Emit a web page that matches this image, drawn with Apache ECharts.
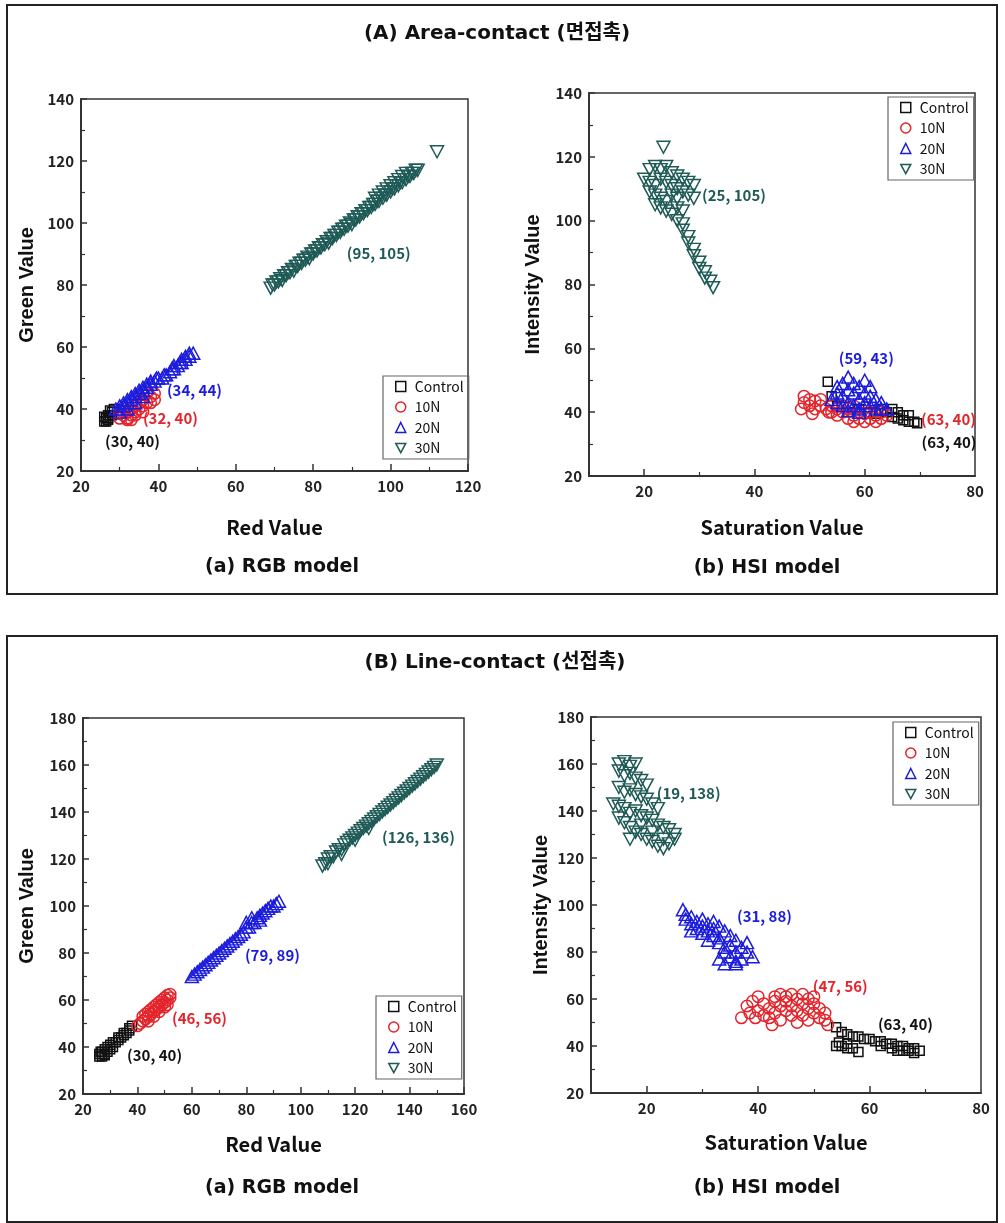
<!DOCTYPE html>
<html><head><meta charset="utf-8">
<script src="https://cdn.jsdelivr.net/npm/echarts@6/dist/echarts.min.js"></script>
<style>html,body{margin:0;padding:0;background:#fff}#c{width:1005px;height:1223px}</style>
</head><body><div id="c"></div>
<script>
// ---------- DATA ----------
const groups = ['Control', '10N', '20N', '30N'];
const panelTitles = ['(A) Area-contact (면접촉)', '(B) Line-contact (선접촉)'];
const subTitles = ['(a) RGB model', '(b) HSI model'];
const xNames = ['Red Value', 'Saturation Value'];
const yNames = ['Green Value', 'Intensity Value'];

const aRgbXTicks = [20, 40, 60, 80, 100, 120];
const aRgbYTicks = [20, 40, 60, 80, 100, 120, 140];
const aHsiXTicks = [20, 40, 60, 80];
const aHsiYTicks = [20, 40, 60, 80, 100, 120, 140];
const bRgbXTicks = [20, 40, 60, 80, 100, 120, 140, 160];
const bRgbYTicks = [20, 40, 60, 80, 100, 120, 140, 160, 180];
const bHsiXTicks = [20, 40, 60, 80];
const bHsiYTicks = [20, 40, 60, 80, 100, 120, 140, 160, 180];
const hsiXMin = 10;

// (A) RGB
const aRgbControl = [[26,36],[26.5,37],[27,37],[27,38],[27.5,38],[28,39],[26,37.5],[27,36.5],[28,38],[27.5,39.5],[26.5,36],[28.5,40]];
const aRgb10N = [[30,37],[31,38],[32,37],[33,38],[32,39],[34,39],[33,40],[35,40],[34,41],[36,41],[35,42],[37,42],[36,43],[38,44],[37,45],[39,45],[31,39],[30,38.5],[34,38],[36,39],[38,42],[39,43],[32,36.5],[33,36.5]];
const aRgb20N = [[29,40],[30,41],[31,41],[31,42],[32,42],[32,43],[33,43],[33,44],[34,44],[34,45],[35,45],[35,46],[36,46],[36,47],[37,47],[37,48],[38,48],[38,49],[39,49],[40,50],[41,50],[42,51],[43,52],[44,53],[44,54],[45,54],[46,55],[46,56],[47,56],[47,57],[48,57],[48,58],[49,58],[30,39],[32,40],[34,42],[36,44],[39.5,50],[41.5,51],[43.5,53],[45.5,55]];
const aRgb30N = [[69,79],[69.5,80],[70,80],[70.5,81],[71,81],[71.5,82],[72,81.5],[72.5,83],[73,83],[73.5,84],[74,84],[74.5,85],[75,84.5],[75.5,86],[76,86],[76.5,87],[77,87],[77.5,88],[78,88],[78.5,89],[79,88.5],[79.5,90],[80,90],[80.5,91],[81,91],[81.5,92],[82,92],[82.5,93],[83,93],[83.5,94],[84,93.5],[84.5,95],[85,95],[85.5,96],[86,96],[86.5,97],[87,97],[87.5,98],[88,98],[88.5,99],[89,99],[89.5,100],[90,99.5],[90.5,101],[91,101],[91.5,102],[92,102],[92.5,103],[93,103],[93.5,104],[94,104],[94.5,105],[95,105],[95.5,106],[96,106],[96,108],[96.5,107],[97,107],[97,109],[98,108],[98,110],[98.5,109],[99,109],[99,111],[100,110],[100,112],[100.5,111],[101,111],[101,113],[102,112],[102,114],[102.5,113],[103,113],[103,115],[104,114],[104,116],[104.5,115],[105,115],[105.5,116],[106,116],[106.5,117],[107,117],[112,123]];
const aRgbNotes = [['(95, 105)',88.7,90.3,3],['(34, 44)',42.2,46.1,2],['(32, 40)',36.0,37.1,1],['(30, 40)',26.2,29.7,0]];

// (A) HSI
const aHsiControl = [[53.3,49.5],[54,45],[55,42],[57,40],[59,41],[61,40],[62,39.5],[63,41],[64,40],[65,41],[66,40],[66,38],[67,39],[67,37.5],[68,39],[68,37],[69,37],[69.5,36.5],[65,38.5]];
const aHsi10N = [[48.5,41],[49,43],[49,45],[50,42],[50,44],[50.5,39.5],[51,41],[51,43.5],[52,42],[52,44],[53,41],[53.5,40],[54,42],[55,41],[55,39],[56,40],[57,38],[57,41],[58,39],[58,37],[59,40],[59,38],[60,37],[60,39.5],[61,38],[61,40],[62,37],[62,39],[63,38],[63,40],[64,39],[56,42],[58,42],[60,41.5],[54,40]];
const aHsi20N = [[54,44],[55,46],[55,48],[56,45],[56,49],[57,47],[57,51],[57,43],[58,46],[58,49],[58,42],[59,44],[59,48],[59,41],[60,46],[60,43],[60,50],[61,45],[61,48],[61,42],[62,44],[62,41],[63,43],[63,41],[64,41],[55,43],[56,42],[57,40.5],[59,40]];
const aHsi30N = [[23.5,123],[21,116],[22,117],[23,116],[24,117],[25,115],[26,114],[27,113],[28,112],[29,111],[20,113],[21,112],[22,111],[23,113],[24,112],[25,111],[26,110],[27,109],[28,108],[29,107],[21,109],[22,108],[23,107],[24,106],[25,108],[26,107],[22,105],[23,104],[24,103],[25,102],[26,104],[27,103],[26,100],[27,99],[27,97],[28,95],[28,93],[29,91],[29,89],[30,87],[30,85],[31,84],[31,82],[32,81],[32.5,79]];
const aHsiNotes = [['(25, 105)',30.5,107.8,3],['(59, 43)',55.3,57,2],['(63, 40)',70.2,37.9,1],['(63, 40)',70.3,30.7,0]];

// (B) RGB
const bRgbControl = [[26,36],[26,37],[27,36],[27,38],[28,37],[28,39],[29,38],[29,40],[30,39],[30,41],[31,40],[31,42],[32,42],[33,43],[33,44],[34,44],[35,45],[35,46],[36,46],[37,47],[37,48],[38,49],[27,37],[26.5,38],[28,36.5]];
const bRgb10N = [[41,50],[42,51],[42,53],[43,52],[43,54],[44,53],[44,55],[45,54],[45,56],[46,55],[46,57],[47,56],[47,58],[48,57],[48,59],[49,58],[49,60],[50,59],[50,61],[51,60],[51,62],[52,61],[52,62.5],[40,49],[44,51],[46,53],[48,55],[50,57],[51,58]];
const bRgb20N = [[60,70],[61,71],[62,72],[63,73],[64,74],[65,75],[66,76],[67,77],[68,78],[69,79],[70,80],[71,81],[72,82],[73,83],[74,84],[75,85],[76,86],[77,87],[78,88],[79,89],[80,91],[81,91],[82,93],[83,93],[84,95],[85,96],[86,97],[87,98],[88,99],[89,100],[90,100],[91,101],[92,102],[80,93],[82,95],[85,94]];
const bRgb30N = [[108,117],[109,118],[110,120],[111,121],[112,121],[113,123],[114,124],[115,124],[116,126],[117,127],[118,128],[119,129],[120,130],[121,131],[122,132],[123,133],[124,134],[125,135],[126,136],[127,137],[128,138],[129,139],[130,140],[131,141],[132,142],[133,143],[134,144],[135,145],[136,146],[137,147],[138,148],[139,149],[140,150],[141,151],[142,152],[143,153],[144,154],[145,155],[146,156],[147,157],[148,158],[149,159],[150,160],[110,118],[115,122],[120,128],[125,133]];
const bRgbNotes = [['(126, 136)',129.9,129.4,3],['(79, 89)',79.5,79.1,2],['(46, 56)',52.7,52.3,1],['(30, 40)',36.2,36.6,0]];

// (B) HSI
const bHsiControl = [[54,48],[55,46],[56,45],[57,44],[58,44],[59,43],[60,43],[61,42],[62,42],[63,41],[64,41],[65,40],[66,40],[67,39],[68,39],[69,38],[68,37],[67,38],[66,38],[65,38],[64,39],[62,40],[54,40],[55,40],[56,39],[57,39],[58,37.5],[56,41],[54.5,41.5]];
const bHsi10N = [[37,52],[38,57],[38.5,54],[39,59],[40,61],[40,55],[41,53],[41,58],[42,56],[42,52],[43,59],[43,54],[43,61],[44,57],[44,62],[44,51],[45,55],[45,59],[45,61],[46,57],[46,53],[46,62],[47,60],[47,55],[47,50],[48,58],[48,62],[48,53],[49,56],[49,60],[49,51],[50,54],[50,58],[50,61],[51,52],[51,56],[52,54],[52,51],[52.5,49],[39.5,52],[42.5,49]];
const bHsi20N = [[26.5,98],[27,96],[27,94],[28,95],[28,92],[29,93],[29,90],[30,94],[30,91],[30,88],[31,92],[31,89],[32,93],[32,87],[32,90],[33,91],[33,86],[33,84],[34,89],[34,82],[34,80],[35,87],[35,83],[35,78],[36,85],[36,80],[36,76],[37,82],[37,77],[38,80],[38,84],[39,78],[33,77],[34,75],[36,75],[31,85],[28,89]];
const bHsi30N = [[15,160],[16,161],[17,159],[18,160],[15,157],[16,155],[17,156],[18,154],[19,153],[20,151],[15,150],[16,148],[17,149],[18,147],[19,146],[20,145],[21,143],[22,141],[14,143],[15,142],[16,141],[17,139],[18,140],[19,138],[20,137],[21,136],[22,134],[23,133],[24,132],[25,130],[15,137],[16,135],[17,133],[18,131],[19,130],[20,128],[21,127],[22,125],[23,124],[24,126],[25,128],[23,128],[21,131],[19,134],[17,128]];
const bHsiNotes = [['(19, 138)',21.8,147.7,3],['(31, 88)',36.2,95.3,2],['(47, 56)',49.8,65.5,1],['(63, 40)',61.5,49.4,0]];

// ---------- STYLE ----------
const COLORS = ['#111111', '#e3242b', '#1c1cdc', '#1e5a56'];
const INV_TRI = 'path://M0,0L12,0L6,11Z';
const SYMBOLS = ['rect', 'circle', 'triangle', INV_TRI];
const SYMSIZE = [9, 11.5, [13, 12], [13, 12]];
const NARROW = "'Noto Sans CJK KR','Liberation Sans Narrow',sans-serif";
const WIDE = "'Liberation Sans',Arial,sans-serif";
const AX = '#333';

const panels = [
  {grid:{left:81, top:99, width:387, height:372}, xt:aRgbXTicks, yt:aRgbYTicks, hsi:false, series:[aRgbControl,aRgb10N,aRgb20N,aRgb30N], notes:aRgbNotes, legend:{left:383, top:376}, xGap:46, yGap:44, xn:xNames[0], yn:yNames[0]},
  {grid:{left:589, top:93, width:386, height:383}, xt:aHsiXTicks, yt:aHsiYTicks, hsi:true, series:[aHsiControl,aHsi10N,aHsi20N,aHsi30N], notes:aHsiNotes, legend:{left:888, top:97}, xGap:41, yGap:46, xn:xNames[1], yn:yNames[1]},
  {grid:{left:83, top:718, width:381, height:376}, xt:bRgbXTicks, yt:bRgbYTicks, hsi:false, series:[bRgbControl,bRgb10N,bRgb20N,bRgb30N], notes:bRgbNotes, legend:{left:376, top:996}, xGap:40, yGap:46, xn:xNames[0], yn:yNames[0]},
  {grid:{left:591, top:717, width:390, height:376}, xt:bHsiXTicks, yt:bHsiYTicks, hsi:true, series:[bHsiControl,bHsi10N,bHsi20N,bHsi30N], notes:bHsiNotes, legend:{left:893, top:722}, xGap:39, yGap:40, xn:xNames[1], yn:yNames[1]}
];

const labelStyle = {fontFamily:NARROW, fontWeight:'bold', fontSize:15, color:'#222'};
const grids = [], xAxes = [], yAxes = [], series = [], legends = [];

panels.forEach((p, gi) => {
  grids.push(Object.assign({show:true, borderColor:AX, borderWidth:1.5, containLabel:false}, p.grid));
  const xMain = {
    type:'value', gridIndex:gi, position:'bottom',
    name:p.xn, nameLocation:'middle', nameGap:p.xGap,
    nameTextStyle:{fontFamily:NARROW, fontWeight:'bold', fontSize:20, color:'#111'},
    max:p.xt[p.xt.length-1],
    axisLine:{show:true, onZero:false, lineStyle:{color:AX, width:2}},
    axisLabel:Object.assign({margin:8, showMinLabel:true, showMaxLabel:true}, labelStyle),
    splitLine:{show:false}
  };
  if (p.hsi) {
    xMain.min = hsiXMin;
    xMain.axisTick = {show:true, inside:true, length:7, customValues:p.xt.slice(0, -1), lineStyle:{color:AX, width:1.5}};
    xMain.axisLabel.customValues = p.xt;
    xAxes.push(xMain);
    const minorVals = p.xt.slice(0, -1).map(v => v + 10);
    xAxes.push({type:'value', gridIndex:gi, position:'bottom', min:hsiXMin, max:p.xt[p.xt.length-1],
      axisLine:{show:false}, axisLabel:{show:false}, splitLine:{show:false},
      axisTick:{show:true, inside:true, length:4, customValues:minorVals, lineStyle:{color:AX, width:1.2}}});
  } else {
    xMain.min = p.xt[0];
    xMain.interval = 20;
    xMain.axisTick = {show:true, inside:true, length:7, lineStyle:{color:AX, width:1.5}};
    xMain.minorTick = {show:true, splitNumber:2, length:4, lineStyle:{color:AX, width:1.2}};
    xAxes.push(xMain);
  }
  const xIdx = xAxes.indexOf(xMain);
  yAxes.push({
    type:'value', gridIndex:gi, position:'left',
    name:p.yn, nameLocation:'middle', nameGap:p.yGap, nameRotate:90,
    nameTextStyle:{fontFamily:WIDE, fontWeight:'bold', fontSize:20, color:'#111'},
    min:p.yt[0], max:p.yt[p.yt.length-1], interval:20,
    axisLine:{show:true, onZero:false, lineStyle:{color:AX, width:2}},
    axisTick:{show:true, inside:true, length:6, lineStyle:{color:AX, width:1.5}},
    minorTick:{show:true, splitNumber:2, length:4, lineStyle:{color:AX, width:1.2}},
    axisLabel:Object.assign({margin:7, showMinLabel:true, showMaxLabel:true}, labelStyle),
    splitLine:{show:false}
  });
  p.series.forEach((d, si) => {
    series.push({
      type:'scatter', name:groups[si], xAxisIndex:xIdx, yAxisIndex:gi,
      data:d, symbol:SYMBOLS[si], symbolSize:SYMSIZE[si],
      itemStyle:{color:'rgba(0,0,0,0)', borderColor:COLORS[si], borderWidth:1.5, opacity:1},
      emphasis:{disabled:true}, z:2+si
    });
  });
  series.push({
    type:'scatter', name:'notes'+gi, xAxisIndex:xIdx, yAxisIndex:gi, symbolSize:0, silent:true, z:10,
    itemStyle:{opacity:1},
    data:p.notes.map(n => ({name:n[0], value:[n[1], n[2]], label:{color:COLORS[n[3]]}})),
    label:{show:true, position:'inside', align:'left', verticalAlign:'middle', formatter:'{b}', fontFamily:NARROW, fontWeight:'bold', fontSize:15}
  });
  legends.push({
    left:p.legend.left, top:p.legend.top, orient:'vertical',
    data:groups.map((g, si) => ({name:g, icon:SYMBOLS[si],
      itemStyle:{color:'rgba(0,0,0,0)', borderColor:COLORS[si], borderWidth:1.5, opacity:1}})),
    itemWidth:10, itemHeight:10, itemGap:5.5,
    padding:[3, 5, 3.5, 12], borderColor:'#666', borderWidth:1.2,
    textStyle:{fontFamily:NARROW, fontSize:14, color:'#111', lineHeight:15, padding:[0,0,0,4]},
    selectedMode:false
  });
});

const TF = "bold 20px 'DejaVu Sans','Noto Sans CJK KR',sans-serif";
const SF = "bold 19px 'DejaVu Sans',sans-serif";
const graphic = [
  {type:'rect', shape:{x:7, y:5, width:990, height:589}, style:{fill:'none', stroke:'#222', lineWidth:2}, silent:true},
  {type:'rect', shape:{x:7, y:636, width:990, height:586}, style:{fill:'none', stroke:'#222', lineWidth:2}, silent:true},
  {type:'text', x:497, y:34, style:{text:panelTitles[0], font:TF, fill:'#111', align:'center', verticalAlign:'middle'}},
  {type:'text', x:495, y:663, style:{text:panelTitles[1], font:TF, fill:'#111', align:'center', verticalAlign:'middle'}},
  {type:'text', x:282, y:567, style:{text:subTitles[0], font:SF, fill:'#111', align:'center', verticalAlign:'middle'}},
  {type:'text', x:767, y:568, style:{text:subTitles[1], font:SF, fill:'#111', align:'center', verticalAlign:'middle'}},
  {type:'text', x:282, y:1188, style:{text:subTitles[0], font:SF, fill:'#111', align:'center', verticalAlign:'middle'}},
  {type:'text', x:767, y:1188, style:{text:subTitles[1], font:SF, fill:'#111', align:'center', verticalAlign:'middle'}}
];

const chart = echarts.init(document.getElementById('c'), null, {renderer:'canvas'});
chart.setOption({
  backgroundColor:'#fff', animation:false,
  grid:grids, xAxis:xAxes, yAxis:yAxes, series:series, legend:legends, graphic:graphic
});
</script></body></html>
